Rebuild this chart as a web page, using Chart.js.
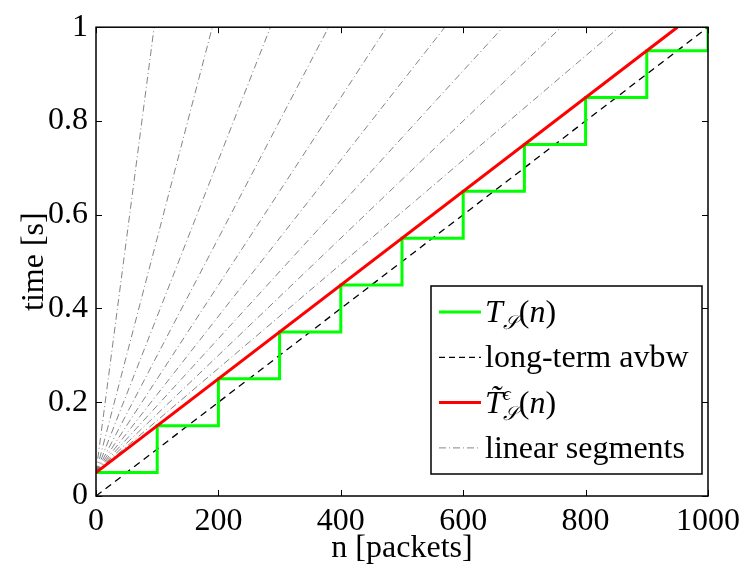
<!DOCTYPE html>
<html>
<head>
<meta charset="utf-8">
<script src="https://cdn.jsdelivr.net/npm/chart.js@4/dist/chart.umd.min.js"></script>
<style>
  body { margin: 0; background: #fff; }
</style>
</head>
<body>
<canvas id="myChart" width="746" height="570"></canvas>
<script>
// staircase T_S(n): value at each 100-packet step
var packets = [0, 100, 200, 300, 400, 500, 600, 700, 800, 900, 1000];
var stairTime = [0.05, 0.15, 0.25, 0.35, 0.45, 0.55, 0.65, 0.75, 0.85, 0.95, 1.0];

// long-term avbw line
var avbwN = [0, 1000];
var avbwTime = [0, 1];

// approximation T~(n)
var approxN = [0, 950];
var approxTime = [0.05, 1];

// linear segments: all start at (0, 0.05), end where they hit time = 1
var segStartTime = 0.05;
var segEndN = [95, 190, 285, 380, 475, 570, 665, 760, 855];

var xTicks = [0, 200, 400, 600, 800, 1000];
var yTicks = [0, 0.2, 0.4, 0.6, 0.8, 1];

var serif = '"Liberation Serif", "Times New Roman", serif';
var tickFont = { family: serif, size: 32 };

var green = 'rgb(0,255,0)', red = 'rgb(255,0,0)', gray = 'rgba(110,110,110,0.85)';

function pts(xs, ys) {
	return xs.map(function (x, i) { return { x: x, y: ys[i] }; });
}

var datasets = [];
segEndN.forEach(function (n) {
	datasets.push({
		data: pts([0, n], [segStartTime, 1]),
		borderColor: gray,
		borderWidth: 1,
		borderDash: [7, 3, 1, 3],
		order: 4
	});
});
datasets.push({
	label: 'long-term avbw',
	data: pts(avbwN, avbwTime),
	borderColor: '#000',
	borderWidth: 1.3,
	borderDash: [7, 5],
	order: 3
});
datasets.push({
	label: 'T_S(n)',
	data: pts(packets, stairTime),
	borderColor: green,
	borderWidth: 3,
	stepped: 'before',
	order: 2
});
datasets.push({
	label: 'T~(n)',
	data: pts(approxN, approxTime),
	borderColor: red,
	borderWidth: 3,
	order: 1
});

// box frame with inward tick marks (matlab style)
var frameTicks = {
	id: 'frameTicks',
	afterDraw: function (chart) {
		var ctx = chart.ctx, a = chart.chartArea;
		var xs = chart.scales.x, ys = chart.scales.y;
		ctx.save();
		ctx.strokeStyle = '#000';
		ctx.lineWidth = 1;
		xTicks.forEach(function (v) {
			var px = Math.round(xs.getPixelForValue(v)) + 0.5;
			ctx.beginPath();
			ctx.moveTo(px, a.bottom); ctx.lineTo(px, a.bottom - 6);
			ctx.moveTo(px, a.top); ctx.lineTo(px, a.top + 6);
			ctx.stroke();
		});
		yTicks.forEach(function (v) {
			var py = Math.round(ys.getPixelForValue(v)) + 0.5;
			ctx.beginPath();
			ctx.moveTo(a.left, py); ctx.lineTo(a.left + 6, py);
			ctx.moveTo(a.right, py); ctx.lineTo(a.right - 6, py);
			ctx.stroke();
		});
		ctx.lineWidth = 1.5;
		ctx.strokeRect(a.left, a.top, a.right - a.left, a.bottom - a.top);
		ctx.restore();
	}
};

// legend entries, text split into runs (i = italic, sub/sup = script position)
var legendItems = [
	{ color: green, width: 3, dash: [], runs: [{ t: 'T', i: 1 }, { t: '𝒮', i: 1, sub: 1 }, { t: '(' }, { t: 'n', i: 1 }, { t: ')' }] },
	{ color: '#000', width: 1.3, dash: [6, 4], runs: [{ t: 'long-term avbw' }] },
	{ color: red, width: 3, dash: [], runs: [{ t: 'T\u0303', i: 1 }, { t: 'ϵ', i: 1, sup: 1, stack: '𝒮' }, { t: '(' }, { t: 'n', i: 1 }, { t: ')' }] },
	{ color: '#888', width: 1, dash: [7, 3, 1, 3], runs: [{ t: 'linear segments' }] }
];

var mathLegend = {
	id: 'mathLegend',
	afterDraw: function (chart) {
		var ctx = chart.ctx;
		var bx = 431, by = 286, bw = 271, bh = 188, size = 32;
		ctx.save();
		ctx.fillStyle = '#fff';
		ctx.fillRect(bx, by, bw, bh);
		ctx.strokeStyle = '#000';
		ctx.lineWidth = 1.5;
		ctx.strokeRect(bx, by, bw, bh);
		legendItems.forEach(function (item, k) {
			var cy = by + 26 + k * 45.3;
			ctx.strokeStyle = item.color;
			ctx.lineWidth = item.width;
			ctx.setLineDash(item.dash);
			ctx.beginPath();
			ctx.moveTo(bx + 8, cy); ctx.lineTo(bx + 50, cy);
			ctx.stroke();
			ctx.setLineDash([]);
			ctx.fillStyle = '#000';
			ctx.textBaseline = 'alphabetic';
			var x = bx + 54, base = cy + 10;
			item.runs.forEach(function (r) {
				var s = (r.sub || r.sup) ? size * 0.62 : size;
				ctx.font = (r.i ? 'italic ' : '') + s + 'px ' + serif;
				var dy = r.sub ? 7 : (r.sup ? -13 : 0);
				ctx.fillText(r.t, x, base + dy);
				var w = ctx.measureText(r.t).width;
				if (r.stack) {
					ctx.fillText(r.stack, x, base + 7);
					w = Math.max(w, ctx.measureText(r.stack).width);
				}
				x += w + (r.sub || r.sup ? 1 : 0);
			});
		});
		ctx.restore();
	}
};

var ctx = document.getElementById('myChart').getContext('2d');
var chart = new Chart(ctx, {
	type: 'line',
	data: { datasets: datasets },
	options: {
		responsive: false,
		animation: false,
		layout: { padding: { top: 16, right: 37, bottom: 0, left: 0 } },
		elements: { point: { radius: 0 } },
		plugins: { legend: { display: false }, tooltip: { enabled: false } },
		scales: {
			x: {
				type: 'linear', min: 0, max: 1000,
				afterBuildTicks: function (s) { s.ticks = xTicks.map(function (v) { return { value: v }; }); },
				afterFit: function (s) { s.height = 74; },
				grid: { display: false, drawTicks: false },
				border: { display: false },
				ticks: { font: tickFont, color: '#000', padding: 6, maxRotation: 0,
					callback: function (v) { return String(v); } },
				title: { display: true, text: 'n [packets]', font: tickFont, color: '#000',
					padding: { top: 0, bottom: 2 } }
			},
			y: {
				type: 'linear', min: 0, max: 1,
				afterBuildTicks: function (s) { s.ticks = yTicks.map(function (v) { return { value: v }; }); },
				afterFit: function (s) { s.width = 96; },
				grid: { display: false, drawTicks: false },
				border: { display: false },
				ticks: { font: tickFont, color: '#000', padding: 8,
					callback: function (v) { return String(v); } },
				title: { display: true, text: 'time [s]', font: tickFont, color: '#000',
					padding: { top: 15, bottom: 0 } }
			}
		}
	},
	plugins: [frameTicks, mathLegend]
});
</script>
</body>
</html>
